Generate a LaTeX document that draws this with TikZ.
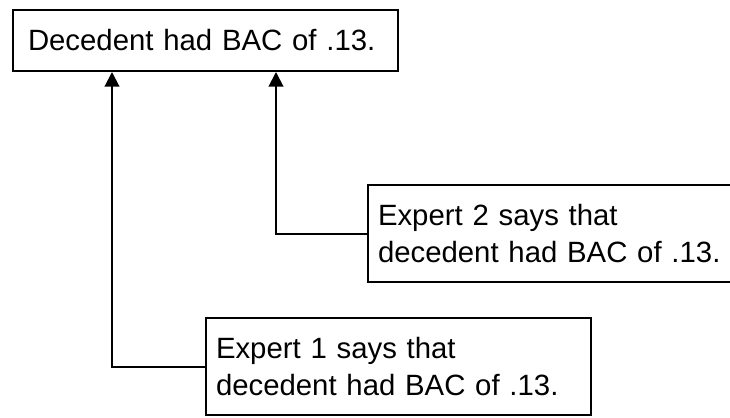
\documentclass[tikz,border=0pt]{standalone}
\usepackage{fontspec}
\setmainfont{Liberation Sans}
\usepackage{tikz}
\usetikzlibrary{
    positioning,
    arrows.meta,
    calc
}

\begin{document}
\begin{tikzpicture}[
        x=0.75pt, y=-0.75pt,
        claim_box/.style={rectangle, draw, line width=1.5pt, align=left, inner ysep=0pt, font=\fontsize{22pt}{27.75pt}\selectfont},
        expert_box/.style={claim_box, minimum height=72.75pt, inner xsep=7.5pt, text width=273.75pt},
        arrow/.style={-{Triangle[length=11pt, width=11pt]}, line width=1.5pt, draw=black}
    ]

        \useasboundingbox (0,0) rectangle (730,417);
        \clip (0,0) rectangle (730,417);

        % Conclusion
        \node[claim_box, anchor=north west, minimum height=45.75pt, inner xsep=11.25pt, text width=266.25pt] (decedent) at (12,9) {Decedent had BAC of .13.};

        % Expert testimony
        \node[expert_box, anchor=north west] (expert2) at (367,184) {Expert 2 says that\\decedent had BAC of .13.};
        \node[expert_box, anchor=north west] (expert1) at (205,317) {Expert 1 says that\\decedent had BAC of .13.};

        % Entry points on the conclusion
        \coordinate (in1) at ($(decedent.south west)+(100,0)$);
        \coordinate (in2) at ($(decedent.south west)+(264,0)$);

        % Arrows
        \draw[arrow] (expert1.west) -| (in1);
        \draw[arrow] (expert2.west) -| (in2);

    \end{tikzpicture}
\end{document}
